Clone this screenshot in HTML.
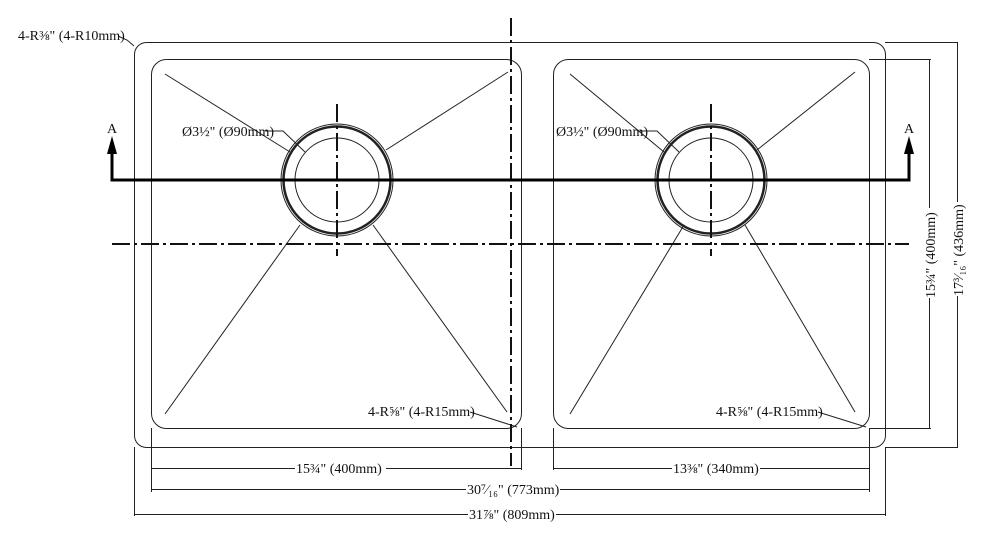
<!DOCTYPE html>
<html><head><style>
html,body{margin:0;padding:0;background:#fff;}
svg{display:block;}
text{font-family:"Liberation Serif",serif;fill:#111;}
</style></head><body>
<svg width="983" height="540" viewBox="0 0 983 540" xmlns="http://www.w3.org/2000/svg">
<g fill="none" stroke="#222" stroke-width="1">
<rect x="134.5" y="42.5" width="751" height="405" rx="12"/>
<rect x="151.5" y="59.5" width="370" height="369" rx="15"/>
<rect x="553.5" y="59.5" width="316" height="369" rx="15"/>
<g>
<circle cx="337" cy="180" r="56"/>
<circle cx="337" cy="180" r="53.5" stroke-width="2.5"/>
<circle cx="337" cy="180" r="42"/>
<circle cx="711" cy="180" r="56"/>
<circle cx="711" cy="180" r="53.5" stroke-width="2.5"/>
<circle cx="711" cy="180" r="42"/>
</g>
<line x1="165" y1="74" x2="290" y2="152"/>
<line x1="508" y1="72" x2="386" y2="150"/>
<line x1="165" y1="414" x2="300" y2="225"/>
<line x1="507" y1="412" x2="373" y2="225"/>
<line x1="570" y1="74" x2="664" y2="152"/>
<line x1="855" y1="72" x2="757" y2="150"/>
<line x1="570" y1="414" x2="684" y2="225"/>
<line x1="855" y1="412" x2="745" y2="225"/>
<polyline points="118,36 127,40 134,46"/>
<polyline points="265,131 283,131 305,152"/>
<polyline points="640,131 657,131 679,152"/>
<polyline points="470,412 517,427"/>
<polyline points="818,412 866,427"/>
<line x1="151.5" y1="428" x2="151.5" y2="492"/>
<line x1="521.5" y1="428" x2="521.5" y2="470"/>
<line x1="553.5" y1="428" x2="553.5" y2="470"/>
<line x1="869.5" y1="428" x2="869.5" y2="492"/>
<line x1="134.5" y1="447" x2="134.5" y2="516"/>
<line x1="885.5" y1="447" x2="885.5" y2="516"/>
<line x1="151" y1="468.5" x2="295" y2="468.5"/><line x1="386" y1="468.5" x2="521" y2="468.5"/>
<line x1="553" y1="468.5" x2="672" y2="468.5"/><line x1="760" y1="468.5" x2="869" y2="468.5"/>
<line x1="151" y1="489.5" x2="466" y2="489.5"/><line x1="560" y1="489.5" x2="869" y2="489.5"/>
<line x1="134" y1="514.5" x2="468" y2="514.5"/><line x1="556" y1="514.5" x2="886" y2="514.5"/>
<line x1="869" y1="59.5" x2="931" y2="59.5"/>
<line x1="869" y1="428.5" x2="931" y2="428.5"/>
<line x1="885" y1="42.5" x2="958" y2="42.5"/>
<line x1="885" y1="447.5" x2="958" y2="447.5"/>
<line x1="929.5" y1="59" x2="929.5" y2="208"/><line x1="929.5" y1="298" x2="929.5" y2="428"/>
<line x1="957.5" y1="42" x2="957.5" y2="202"/><line x1="957.5" y1="296" x2="957.5" y2="447"/>
</g>
<g stroke="#111" stroke-width="2" fill="none" stroke-dasharray="18,4,3,4">
<line x1="112" y1="244" x2="909" y2="244"/>
<line x1="511" y1="18" x2="511" y2="466"/>
<line x1="337" y1="104" x2="337" y2="256"/>
<line x1="711" y1="104" x2="711" y2="256"/>
</g>
<polyline points="112,150 112,180 909,180 909,150" fill="none" stroke="#000" stroke-width="3"/>
<polygon points="112,136 107,154 117,154" fill="#000"/>
<polygon points="909,136 904,154 914,154" fill="#000"/>
<g font-size="14">
<text x="107" y="133">A</text>
<text x="904" y="133">A</text>
<text x="18" y="40">4-R⅜" (4-R10mm)</text>
<text x="182" y="136">Ø3½" (Ø90mm)</text>
<text x="556" y="136">Ø3½" (Ø90mm)</text>
<text x="368" y="416">4-R⅝" (4-R15mm)</text>
<text x="716" y="416">4-R⅝" (4-R15mm)</text>
<text x="296" y="473">15¾" (400mm)</text>
<text x="673" y="473">13⅜" (340mm)</text>
<text x="467" y="494">30⁷⁄₁₆" (773mm)</text>
<text x="469" y="519">31⅞" (809mm)</text>
<text transform="translate(935,298) rotate(-90)">15¾" (400mm)</text>
<text transform="translate(963,296) rotate(-90)">17³⁄₁₆" (436mm)</text>
</g>
</svg>
</body></html>
